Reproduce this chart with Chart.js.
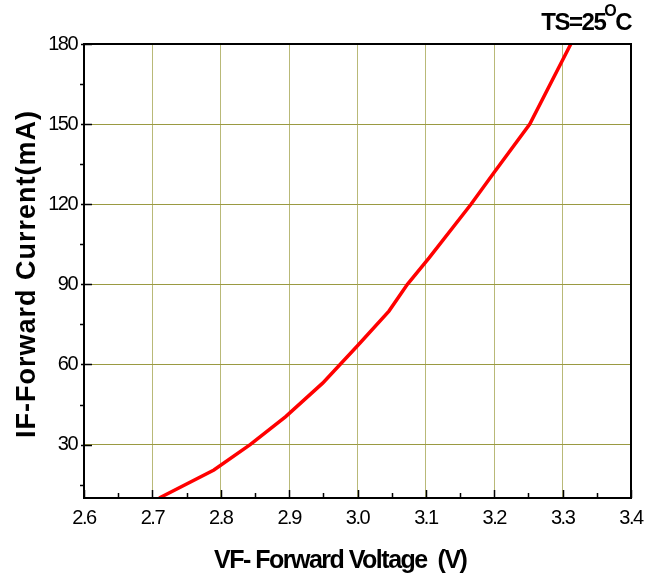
<!DOCTYPE html>
<html>
<head>
<meta charset="utf-8">
<script src="https://cdn.jsdelivr.net/npm/chart.js@4/dist/chart.umd.min.js"></script>
<style>
  html, body { margin: 0; padding: 0; background: #ffffff; }
  #wrap { width: 657px; height: 580px; position: relative; }
</style>
</head>
<body>
<div id="wrap"><canvas id="c" width="657" height="580"></canvas></div>
<script>
// ---- data ----
const voltage = [2.71, 2.79, 2.843, 2.895, 2.949, 3.0, 3.046, 3.073, 3.105, 3.166, 3.2, 3.252, 3.312];
const current = [10, 20.5, 30, 40.5, 53, 67, 80, 90, 100, 120, 132, 150, 180];
const xTickLabels = ['2.6', '2.7', '2.8', '2.9', '3.0', '3.1', '3.2', '3.3', '3.4'];
const yTickLabels = ['30', '60', '90', '120', '150', '180'];
const xMinorTicks = [2.65, 2.75, 2.85, 2.95, 3.05, 3.15, 3.25, 3.35];
const yMinorTicks = [15, 45, 75, 105, 135, 165];
const xTitle = 'VF- Forward Voltage  (V)';
const yTitle = 'IF-Forward Current(mA)';
const noteMain = 'TS=25';
const noteSup = 'O';
const noteEnd = 'C';

const FONT = "'Liberation Sans', Arial, sans-serif";
const points = voltage.map((v, i) => ({ x: v, y: current[i] }));
const xTickValues = xTickLabels.map(Number);
const yTickValues = yTickLabels.map(Number);

const decorPlugin = {
  id: 'decor',
  beforeDraw(chart) {
    chart.ctx.letterSpacing = '-1.5px';
  },
  afterDatasetsDraw(chart) {
    const ctx = chart.ctx;
    const a = chart.chartArea;
    const xs = chart.scales.x, ys = chart.scales.y;
    ctx.save();
    ctx.strokeStyle = '#000';
    ctx.lineWidth = 2;
    ctx.strokeRect(a.left, a.top, a.right - a.left, a.bottom - a.top);
    ctx.lineWidth = 1.5;
    ctx.beginPath();
    xTickValues.forEach(v => {
      const px = Math.round(xs.getPixelForValue(v)) + 0.5;
      ctx.moveTo(px, a.bottom); ctx.lineTo(px, a.bottom - 8);
    });
    xMinorTicks.forEach(v => {
      const px = Math.round(xs.getPixelForValue(v)) + 0.5;
      ctx.moveTo(px, a.bottom); ctx.lineTo(px, a.bottom - 5);
    });
    yTickValues.forEach(v => {
      const py = Math.round(ys.getPixelForValue(v)) + 0.5;
      ctx.moveTo(a.left - 3, py); ctx.lineTo(a.left + 8, py);
    });
    yMinorTicks.forEach(v => {
      const py = Math.round(ys.getPixelForValue(v)) + 0.5;
      ctx.moveTo(a.left - 4, py); ctx.lineTo(a.left, py);
    });
    ctx.stroke();
    ctx.restore();
  },
  afterDraw(chart) {
    const ctx = chart.ctx;
    const a = chart.chartArea;
    ctx.save();
    ctx.fillStyle = '#000';
    // x title
    ctx.letterSpacing = '-1.5px';
    ctx.font = 'bold 25px ' + FONT;
    ctx.textAlign = 'left';
    ctx.textBaseline = 'alphabetic';
    ctx.fillText(xTitle, 214, 568);
    // y title
    ctx.save();
    ctx.letterSpacing = '1px';
    ctx.font = 'bold 27px ' + FONT;
    ctx.translate(35, (a.top + a.bottom) / 2 + 3);
    ctx.rotate(-Math.PI / 2);
    ctx.textAlign = 'center';
    ctx.fillText(yTitle, 0, 0);
    ctx.restore();
    // temperature note
    ctx.letterSpacing = '-1.5px';
    ctx.textAlign = 'right';
    ctx.font = 'bold 24px ' + FONT;
    const right = 631;
    ctx.fillText(noteEnd, right, 30);
    const wC = ctx.measureText(noteEnd).width;
    ctx.font = 'bold 16px ' + FONT;
    ctx.fillText(noteSup, right - wC, 16);
    const wO = ctx.measureText(noteSup).width;
    ctx.font = 'bold 24px ' + FONT;
    ctx.fillText(noteMain, right - wC - wO + 1, 30);
    ctx.restore();
  }
};

new Chart(document.getElementById('c'), {
  type: 'line',
  data: {
    datasets: [{
      data: points,
      borderColor: '#ff0000',
      borderWidth: 3.5,
      pointRadius: 0,
      tension: 0,
      fill: false
    }]
  },
  options: {
    responsive: false,
    animation: false,
    devicePixelRatio: 1,
    layout: { padding: { left: 0, right: 26, top: 44, bottom: 0 } },
    plugins: { legend: { display: false }, tooltip: { enabled: false } },
    scales: {
      x: {
        type: 'linear',
        min: 2.6, max: 3.4,
        afterBuildTicks: s => { s.ticks = xTickValues.map(v => ({ value: v })); },
        afterFit: s => { s.height = 82; },
        grid: { color: '#b9b978', lineWidth: 1, drawTicks: false },
        border: { display: false },
        ticks: {
          padding: 8,
          color: '#000',
          font: { family: FONT, size: 20 },
          maxRotation: 0,
          autoSkip: false,
          callback: (v, i) => xTickLabels[i]
        },
        title: { display: false }
      },
      y: {
        type: 'linear',
        min: 10, max: 180,
        afterBuildTicks: s => { s.ticks = yTickValues.map(v => ({ value: v })); },
        afterFit: s => { s.width = 84; },
        grid: { color: '#9a9a42', lineWidth: 1, drawTicks: false },
        border: { display: false },
        ticks: {
          padding: 7,
          color: '#000',
          font: { family: FONT, size: 20 },
          autoSkip: false,
          callback: (v, i) => yTickLabels[i]
        },
        title: { display: false }
      }
    }
  },
  plugins: [decorPlugin]
});
</script>
</body>
</html>
